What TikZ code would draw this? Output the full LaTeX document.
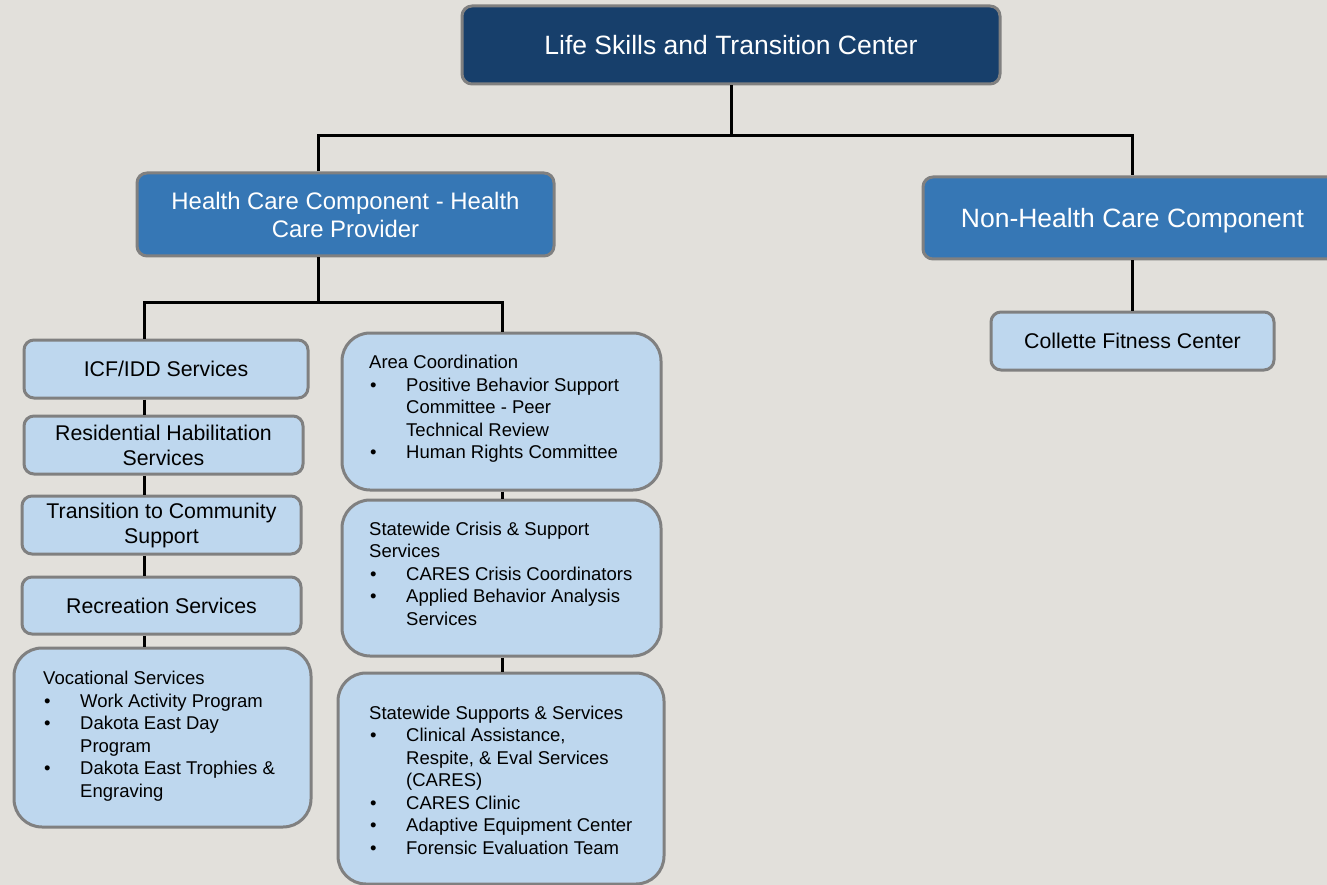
\documentclass[tikz,border=0pt]{standalone}
\usepackage{fontspec}
\setmainfont{Liberation Sans}
\definecolor{bg}{HTML}{E2E0DB}
\definecolor{navy}{HTML}{173F6B}
\definecolor{midblue}{HTML}{3677B5}
\definecolor{lightblue}{HTML}{BED7EE}
\definecolor{bordergray}{HTML}{808080}
\newcommand{\bul}{\makebox[37pt][l]{\hspace{1pt}\textbullet}}
\newcommand{\ind}{\hspace*{37pt}}
\tikzset{
  boxbase/.style={draw=bordergray, line width=3pt, rounded corners=10pt, inner sep=0pt, align=center},
  darkbox/.style={boxbase, fill=navy, text=white},
  midbox/.style={boxbase, fill=midblue, text=white},
  lightbox/.style={boxbase, fill=lightblue, text=black, font=\fontsize{21.3pt}{25pt}\selectfont},
  listbox/.style={boxbase, fill=lightblue, rounded corners=28pt},
  listtext/.style={anchor=base west, inner sep=0pt, align=left, text=black, font=\fontsize{18.5pt}{22.5pt}\selectfont},
  conn/.style={line width=3pt, black},
}
\begin{document}
\begin{tikzpicture}[x=1pt,y=-1pt]
\useasboundingbox (0,0) rectangle (1327,885);
\clip (0,0) rectangle (1327,885);
\fill[bg] (0,0) rectangle (1327,885);

% top levels
\node[darkbox, minimum width=538pt, minimum height=78pt, font=\fontsize{26.5pt}{31pt}\selectfont] (top) at (731,45) {Life Skills and Transition Center};
\node[midbox, minimum width=417pt, minimum height=83pt, font=\fontsize{23.9pt}{28pt}\selectfont] (health) at (345.5,214.5) {Health Care Component - Health\\Care Provider};
\node[midbox, minimum width=419pt, minimum height=82pt, font=\fontsize{26.5pt}{31pt}\selectfont, text depth=0pt] (nonh) at (1132.5,218) {Non-Health Care Component};
\node[lightbox, minimum width=283pt, minimum height=58pt] (coll) at (1132.5,341) {Collette Fitness Center};

% left column
\node[lightbox, minimum width=284pt, minimum height=58pt] (icf) at (166,369) {ICF/IDD Services};
\node[lightbox, minimum width=279pt, minimum height=58pt] (res) at (163.5,445) {Residential Habilitation\\Services};
\node[lightbox, minimum width=279pt, minimum height=58pt] (trans) at (161.5,525) {Transition to Community\\Support};
\node[lightbox, minimum width=279pt, minimum height=57pt] (rec) at (161.5,605.5) {Recreation Services};
\node[listbox, minimum width=297pt, minimum height=179pt] (voc) at (162.5,737.5) {};
\node[listtext] (voct) at (43,797) {Vocational Services\\
\bul Work Activity Program\\
\bul Dakota East Day\\
\ind Program\\
\bul Dakota East Trophies \&\\
\ind Engraving};

% right column
\node[listbox, minimum width=319pt, minimum height=157pt] (area) at (501.5,411.5) {};
\node[listtext] (areat) at (369,458.5) {Area Coordination\\
\bul Positive Behavior Support\\
\ind Committee - Peer\\
\ind Technical Review\\
\bul Human Rights Committee};
\node[listbox, minimum width=319pt, minimum height=156pt] (crisis) at (501.5,578) {};
\node[listtext] (crisist) at (369,625) {Statewide Crisis \& Support\\
Services\\
\bul CARES Crisis Coordinators\\
\bul Applied Behavior Analysis\\
\ind Services};
\node[listbox, minimum width=326pt, minimum height=211pt] (supp) at (501,778.5) {};
\node[listtext] (suppt) at (369,854) {Statewide Supports \& Services\\
\bul Clinical Assistance,\\
\ind Respite, \& Eval Services\\
\ind (CARES)\\
\bul CARES Clinic\\
\bul Adaptive Equipment Center\\
\bul Forensic Evaluation Team};

% junctions
\coordinate (j1) at (731,136);
\coordinate (j2) at (318,302);
\coordinate (lx) at (144,302);
\coordinate (rx) at (502,302);

% connectors
\draw[conn] (top.south) -- (top.south |- j1);
\draw[conn] (health.north -| j2) -- (j2 |- j1) -- (nonh.north |- j1) -- (nonh.north);
\draw[conn] (nonh.south) -- (coll.north);
\draw[conn] (health.south -| j2) -- (j2);
\draw[conn] (icf.north -| lx) -- (lx) -- (rx) -- (area.north -| rx);
\draw[conn] (icf.south -| lx) -- (res.north -| lx);
\draw[conn] (res.south -| lx) -- (trans.north -| lx);
\draw[conn] (trans.south -| lx) -- (rec.north -| lx);
\draw[conn] (rec.south -| lx) -- (voc.north -| lx);
\draw[conn] (area.south -| rx) -- (crisis.north -| rx);
\draw[conn] (crisis.south -| rx) -- (supp.north -| rx);
\end{tikzpicture}
\end{document}
